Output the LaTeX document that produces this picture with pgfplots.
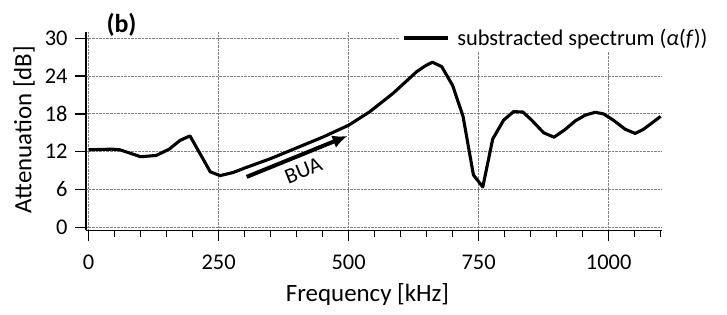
\documentclass[border=0pt]{standalone}
\usepackage{fontspec}
\setmainfont{Carlito}
\usepackage{pgfplots}
\pgfplotsset{compat=1.18}
\usetikzlibrary{arrows.meta}
\begin{document}
\begin{tikzpicture}
\begin{axis}[
  at={(0,0)}, anchor=south west,
  scale only axis, width=575.7bp, height=198.5bp,
  xmin=-5, xmax=1102, ymin=-0.5, ymax=31,
  axis lines*=left,
  axis line style={line width=1.8bp},
  xtick={0,250,500,750,1000},
  minor xtick={0,50,...,1100},
  ytick={0,6,...,30},
  tick align=outside,
  major tick length=11bp, minor tick length=7bp,
  every tick/.style={black, line width=1.4bp},
  grid=major,
  major grid style={densely dotted, gray, line width=0.9bp},
  tick label style={font=\fontsize{22.5}{26}\selectfont},
  /pgf/number format/assume math mode=true,
  /pgf/number format/1000 sep={},
  xticklabel style={yshift=-10bp},
  yticklabel style={xshift=-4bp},
  xlabel={Frequency [kHz]}, ylabel={Attenuation [dB]},
  label style={font=\fontsize{25}{30}\selectfont},
  xlabel style={at={(axis description cs:0.489,-0.325)}, anchor=center},
  ylabel style={at={(axis description cs:-0.1077,0.5086)}, anchor=center},
  clip=false,
  legend style={at={(axis description cs:0.5454,0.9695)}, anchor=west,
    draw=none, fill=white, font=\fontsize{22.5}{26}\selectfont,
    inner xsep=2bp, inner ysep=3bp,
    /tikz/every odd column/.append style={column sep=6bp}},
  legend image code/.code={\draw[#1] (0bp,0bp) -- (44bp,0bp);},
]
\addplot[black, line width=3.1bp, line join=round] coordinates {
(0,12.3) (45,12.4) (60,12.3) (100,11.2) (130,11.4) (155,12.4) (176,13.8)
(195,14.5) (234,8.8) (253,8.2) (278,8.7) (300,9.4) (350,10.9) (400,12.6)
(450,14.3) (500,16.2) (540,18.3) (586,21.3) (631,24.7) (647,25.6) (661,26.2)
(679,25.5) (700,22.5) (720,17.6) (740,8.3) (758,6.4) (777,14.0) (798,17.0)
(817,18.35) (835,18.3) (852,17.0) (875,15.0) (895,14.3) (916,15.5) (936,16.9)
(955,17.8) (974,18.25) (990,18.0) (1009,17.0) (1032,15.55) (1051,14.9)
(1067,15.55) (1100,17.6)
};
\addlegendentry{substracted spectrum (\textit{α}(\textit{f}))}
\draw[line width=4bp, -{Latex[length=15bp,width=13bp]}] (axis cs:304,8.0) -- (axis cs:498,14.5);
\node[rotate=22, font=\fontsize{22}{26}\selectfont] at (axis cs:413,9.0) {BUA};
\node[font=\bfseries\fontsize{26}{30}\selectfont] at (axis description cs:0.0617,1.035) {(b)};
\end{axis}
\pgfresetboundingbox
\path[use as bounding box] (-86bp,-84.55bp) rectangle (641bp,230.45bp);
\end{tikzpicture}
\end{document}
